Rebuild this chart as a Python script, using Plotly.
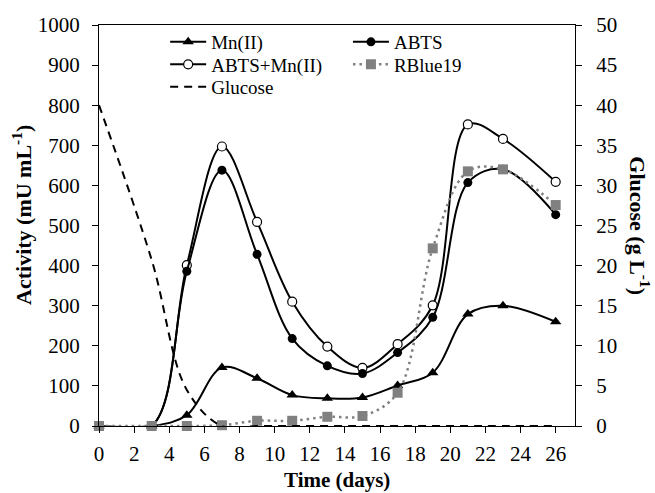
import plotly.graph_objects as go

# ---- data ----
days = [0, 3, 5, 7, 9, 11, 13, 15, 17, 19, 21, 23, 26]
mn_ii = [0, 0, 27, 146, 119, 77, 69, 71, 101, 133, 279, 300, 260]
abts = [0, 0, 386, 638, 428, 218, 150, 131, 183, 271, 607, 640, 527]
abts_mn = [0, 0, 401, 697, 509, 310, 198, 145, 204, 301, 752, 716, 609]
rblue19 = [0, 0, 0, 2, 13, 13, 23, 25, 83, 443, 635, 640, 551]
glucose = [40, 20.7, 4.5, 0, 0, 0, 0, 0, 0, 0, 0, 0, 0]

x_ticks = list(range(0, 27, 2))
y_ticks = list(range(0, 1001, 100))
y2_ticks = list(range(0, 51, 5))

FONT = "Liberation Serif"
BLACK = "#000000"
GRAY = "#808080"

fig = go.Figure()

fig.add_trace(go.Scatter(
    x=days, y=mn_ii, name="Mn(II)", mode="lines+markers",
    line=dict(color=BLACK, width=2, shape="spline", smoothing=1),
    marker=dict(symbol="triangle-up", size=10, color=BLACK),
    legend="legend", cliponaxis=False))

fig.add_trace(go.Scatter(
    x=days, y=abts_mn, name="ABTS+Mn(II)", mode="lines+markers",
    line=dict(color=BLACK, width=2, shape="spline", smoothing=1),
    marker=dict(symbol="circle", size=9, color="white",
                line=dict(color=BLACK, width=1.2)),
    legend="legend2", cliponaxis=False))

fig.add_trace(go.Scatter(
    x=days, y=abts, name="ABTS", mode="lines+markers",
    line=dict(color=BLACK, width=2, shape="spline", smoothing=1),
    marker=dict(symbol="circle", size=9, color=BLACK),
    legend="legend4", cliponaxis=False))

fig.add_trace(go.Scatter(
    x=days, y=rblue19, name="RBlue19", mode="lines+markers",
    line=dict(color=GRAY, width=2.5, shape="spline", smoothing=1, dash="2.5px,4px"),
    marker=dict(symbol="square", size=10, color=GRAY),
    legend="legend5", cliponaxis=False))

fig.add_trace(go.Scatter(
    x=days, y=glucose, name="Glucose", mode="lines", yaxis="y2",
    line=dict(color=BLACK, width=2, shape="spline", smoothing=1, dash="8px,6px"),
    legend="legend3", cliponaxis=False))

axis_common = dict(
    showgrid=False, zeroline=False, showline=True, linecolor=BLACK, linewidth=1.3,
    ticks="outside", ticklen=6, tickwidth=1.3, tickcolor=BLACK,
    tickfont=dict(family=FONT, size=21, color=BLACK),
)


def leg(x, y):
    return dict(x=x, y=y, xanchor="left", yanchor="middle",
                bgcolor="rgba(0,0,0,0)", font=dict(family=FONT, size=19, color=BLACK),
                itemwidth=36, tracegroupgap=0)


fig.update_layout(
    width=655, height=493,
    margin=dict(l=99, r=80, t=25, b=67),
    plot_bgcolor="white", paper_bgcolor="white",
    font=dict(family=FONT, size=21, color=BLACK),
    xaxis=dict(range=[0, 27.1], tickvals=x_ticks, mirror=True,
               ticklabelstandoff=3, **axis_common),
    yaxis=dict(range=[0, 1000], tickvals=y_ticks, ticklabelstandoff=8, **axis_common),
    yaxis2=dict(range=[0, 50], tickvals=y2_ticks, overlaying="y", side="right",
                ticklabelstandoff=10, **axis_common),
    legend=leg(0.139, 0.9576),
    legend2=leg(0.139, 0.9015),
    legend3=leg(0.139, 0.8454),
    legend4=leg(0.523, 0.9576),
    legend5=leg(0.523, 0.9015),
    showlegend=True,
    annotations=[
        dict(text="<b>Time (days)</b>", xref="paper", yref="paper",
             x=0.5, y=-0.1335, xanchor="center", yanchor="middle", showarrow=False,
             font=dict(family=FONT, size=21, color=BLACK)),
        dict(text="<b>Activity (mU mL<sup>-1</sup>)</b>", xref="paper", yref="paper",
             x=-0.162, y=0.526, xanchor="center", yanchor="middle", textangle=-90,
             showarrow=False, font=dict(family=FONT, size=22, color=BLACK)),
        dict(text="<b>Glucose (g L<sup>-1</sup>)</b>", xref="paper", yref="paper",
             x=1.137, y=0.5, xanchor="center", yanchor="middle", textangle=90,
             showarrow=False, font=dict(family=FONT, size=22, color=BLACK)),
    ],
)

fig.write_html("out.html")
